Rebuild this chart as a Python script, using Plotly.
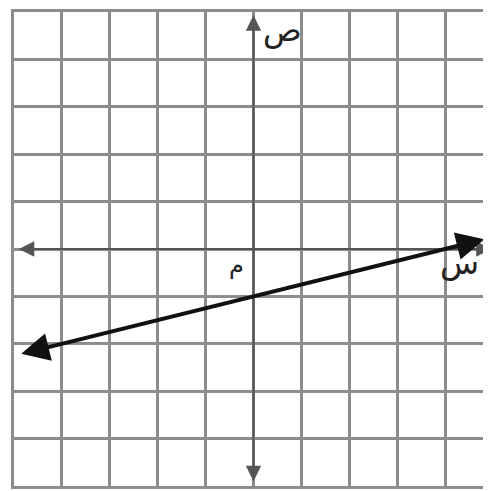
import plotly.graph_objects as go

# line y = x/4 - 1 endpoints (arrow tips)
line_x = [-4.88, 4.82]
line_y = [-2.22, 0.205]

# axis arrow extents
xaxis_ends = [-4.93, 4.97]
yaxis_ends = [-4.93, 4.93]

labels = ["ص", "س", "م"]
label_x = [0.6, 4.3, -0.36]
label_y = [4.62, -0.3, -0.33]
label_size = [32, 32, 24]

fig = go.Figure()
fig.add_trace(go.Scatter(x=[None], y=[None], showlegend=False))

# axes with arrows at both ends
fig.add_annotation(x=xaxis_ends[1], y=0, ax=xaxis_ends[0], ay=0, xref="x", yref="y",
                   axref="x", ayref="y", showarrow=True, arrowhead=2, arrowside="end+start",
                   arrowsize=1.4, arrowwidth=2.2, arrowcolor="#555555", standoff=0, startstandoff=0, text="")
fig.add_annotation(x=0, y=yaxis_ends[1], ax=0, ay=yaxis_ends[0], xref="x", yref="y",
                   axref="x", ayref="y", showarrow=True, arrowhead=2, arrowside="end+start",
                   arrowsize=1.4, arrowwidth=2.2, arrowcolor="#555555", standoff=0, startstandoff=0, text="")
# the main line
fig.add_annotation(x=line_x[1], y=line_y[1], ax=line_x[0], ay=line_y[0], xref="x", yref="y",
                   axref="x", ayref="y", showarrow=True, arrowhead=2, arrowside="end+start",
                   arrowsize=1.4, arrowwidth=4, arrowcolor="#111111", standoff=0, startstandoff=0, text="")

for t, x, y, s in zip(labels, label_x, label_y, label_size):
    fig.add_annotation(x=x, y=y, xref="x", yref="y", text=t, showarrow=False,
                       font=dict(family="DejaVu Sans", size=s, color="#222222"))

ax_common = dict(dtick=1, tick0=0, showgrid=True, gridcolor="#8c8c8c", gridwidth=2.5,
                 zeroline=False, showticklabels=False, ticks="",
                 showline=True, linecolor="#8c8c8c", linewidth=3, mirror=True, fixedrange=True)

fig.update_layout(
    width=491, height=491,
    margin=dict(l=6, r=6, t=1, b=13),
    plot_bgcolor="white", paper_bgcolor="white",
    xaxis=dict(range=[-5, 5], **ax_common),
    yaxis=dict(range=[-5, 5], **ax_common),
    showlegend=False,
)
fig.write_html("out.html")
